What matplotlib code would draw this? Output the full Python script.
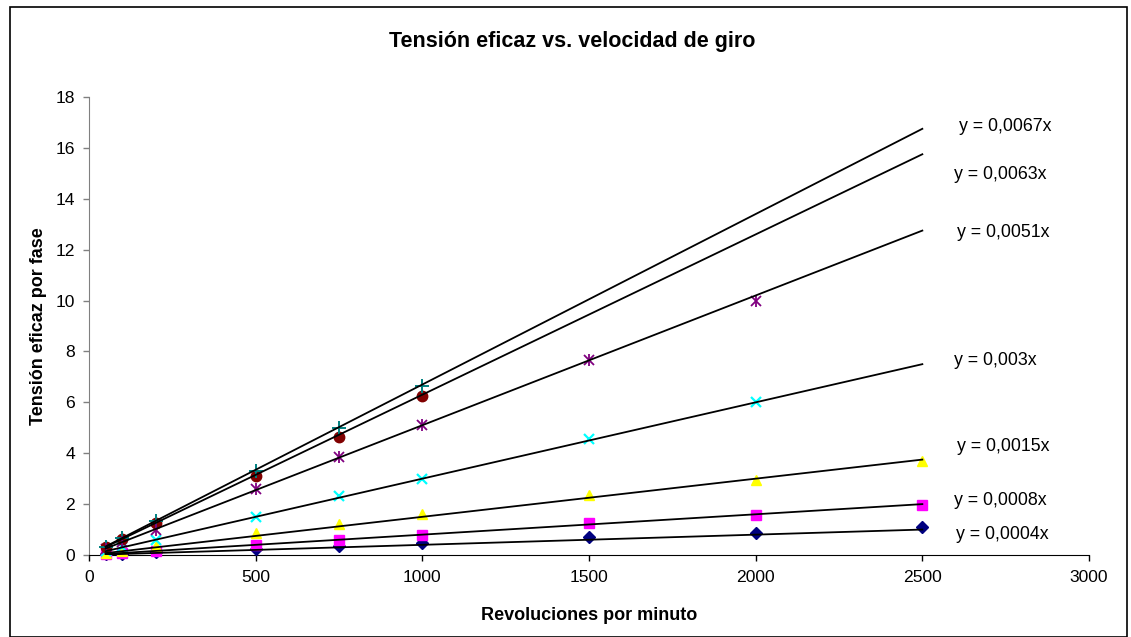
import matplotlib
matplotlib.use("Agg")
import matplotlib.pyplot as plt
from matplotlib.patches import Rectangle

plt.rcParams['font.family'] = ['Liberation Sans', 'DejaVu Sans']

rpm = [50, 100, 200, 500, 750, 1000, 1500, 2000, 2500]

s_0004 = [0.02, 0.05, 0.10, 0.22, 0.35, 0.48, 0.72, 0.88, 1.10]
s_0008 = [0.04, 0.08, 0.15, 0.38, 0.60, 0.80, 1.25, 1.57, 1.95]
s_0015 = [0.07, 0.15, 0.35, 0.85, 1.20, 1.60, 2.35, 2.95, 3.70]
s_003 = [0.15, 0.30, 0.60, 1.50, 2.30, 3.00, 4.55, 6.00]
s_0051 = [0.25, 0.50, 1.00, 2.60, 3.85, 5.10, 7.65, 10.00]
s_0063 = [0.30, 0.62, 1.25, 3.10, 4.65, 6.25]
s_0067 = [0.33, 0.67, 1.35, 3.30, 5.00, 6.65]

slopes = [0.0004, 0.0008, 0.0015, 0.003, 0.0051, 0.0063, 0.0067]
eq_labels = ["y = 0,0004x", "y = 0,0008x", "y = 0,0015x", "y = 0,003x",
             "y = 0,0051x", "y = 0,0063x", "y = 0,0067x"]
label_x = [2600, 2595, 2605, 2595, 2605, 2595, 2610]
label_y = [0.79, 2.16, 4.25, 7.66, 12.66, 14.94, 16.86]
trend_x = [50, 2500]

x_ticks = [0, 500, 1000, 1500, 2000, 2500, 3000]
y_ticks = [0, 2, 4, 6, 8, 10, 12, 14, 16, 18]

W, H = 1131, 637
fig = plt.figure(figsize=(W / 100, H / 100), dpi=100)
fig.patches.append(Rectangle((10 / W, 0.5 / H), (1127 - 10) / W, (H - 7 - 0.5) / H,
                             transform=fig.transFigure, fill=False,
                             edgecolor='black', linewidth=1.2))
ax = fig.add_axes([89 / W, (H - 555) / H, (1089 - 89) / W, (555 - 97) / H])

series = [
    (s_0004, dict(marker='D', color='#000080', ms=6.5)),
    (s_0008, dict(marker='s', color='#FF00FF', ms=7)),
    (s_0015, dict(marker='^', color='#FFFF00', ms=7.5)),
    (s_003, dict(marker='x', color='#00FFFF', ms=7.5, mew=1.6)),
    (s_0051, dict(marker='x', color='#800080', ms=7.5, mew=1.3)),
    (s_0063, dict(marker='o', color='#800000', ms=7.5)),
    (s_0067, dict(marker='+', color='#008080', ms=10, mew=1.4)),
]
for vals, st in series:
    xs = rpm[:len(vals)]
    ax.plot(xs, vals, linestyle='none', markeredgecolor=st['color'],
            markerfacecolor=st['color'], marker=st['marker'], markersize=st['ms'],
            markeredgewidth=st.get('mew', 1.0), zorder=3, clip_on=False)
# star marker: add vertical bar for purple series
ax.plot(rpm[:len(s_0051)], s_0051, linestyle='none', marker='|', color='#800080',
        markersize=8.5, markeredgewidth=1.3, zorder=3, clip_on=False)

for k, lab, lx, ly in zip(slopes, eq_labels, label_x, label_y):
    ax.plot(trend_x, [k * trend_x[0], k * trend_x[1]], color='black', lw=1.3, zorder=4)
    ax.text(lx, ly, lab, fontsize=12.8, ha='left', va='center')

ax.set_xlim(0, 3000)
ax.set_ylim(0, 18)
ax.set_xticks(x_ticks)
ax.set_yticks(y_ticks)
ax.tick_params(axis='both', direction='out', length=4, labelsize=12.6, width=1)
ax.tick_params(axis='x', pad=7)
ax.tick_params(axis='y', pad=6)
ax.spines['top'].set_visible(False)
ax.spines['right'].set_visible(False)
ax.spines['left'].set_color('#808080')
ax.tick_params(axis='y', color='#808080')
ax.spines['bottom'].set_color('black')

ax.set_xlabel('Revoluciones por minuto', fontsize=13, fontweight='bold', labelpad=16)
ax.set_ylabel('Tensión eficaz por fase', fontsize=13, fontweight='bold', labelpad=6)
fig.text(572 / W, 1 - 41 / H, 'Tensión eficaz vs. velocidad de giro', fontsize=15.5,
         fontweight='bold', ha='center', va='center')

fig.savefig('out.png', dpi=100)
